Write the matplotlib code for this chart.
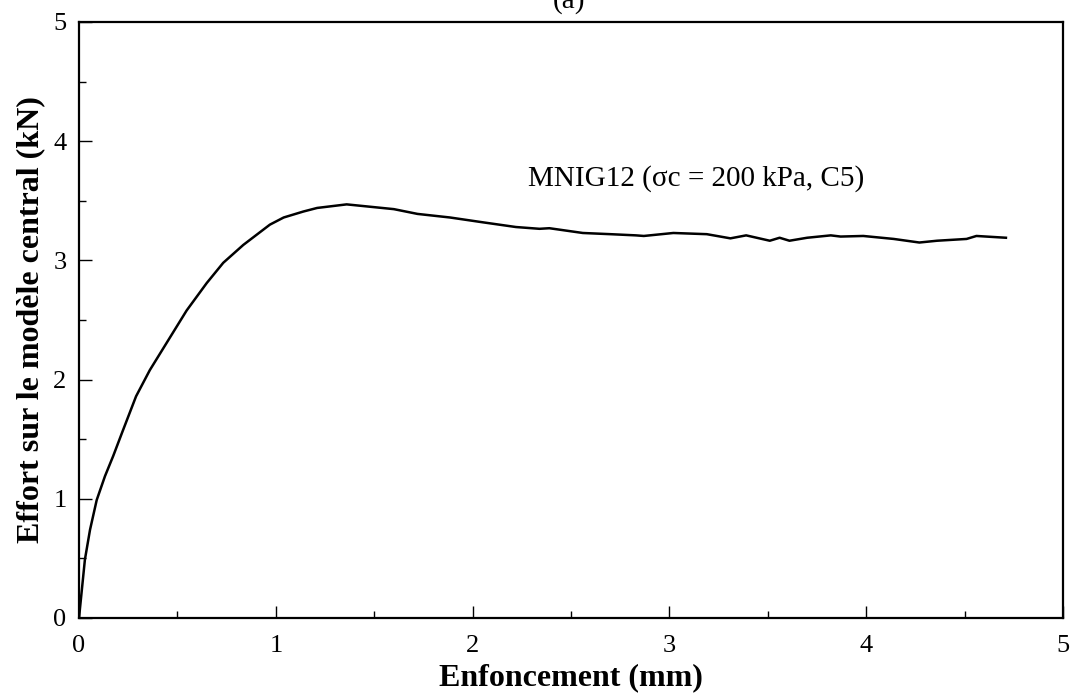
import matplotlib
matplotlib.use("Agg")
import matplotlib.pyplot as plt
from matplotlib.ticker import MultipleLocator

# courbe effort-enfoncement
enf = [0.0, 0.03, 0.056, 0.09, 0.132, 0.174, 0.22, 0.29, 0.36, 0.446, 0.547, 0.649,
       0.733, 0.835, 0.97, 1.04, 1.14, 1.21, 1.31, 1.36, 1.48, 1.60, 1.72, 1.885,
       2.05, 2.22, 2.34, 2.39, 2.56, 2.70, 2.83, 2.87, 3.02, 3.19, 3.31, 3.39,
       3.51, 3.56, 3.61, 3.70, 3.82, 3.87, 3.985, 4.14, 4.27, 4.36, 4.51, 4.56, 4.71]
effort = [0.0, 0.49, 0.74, 0.99, 1.19, 1.36, 1.56, 1.86, 2.08, 2.31, 2.58, 2.81,
          2.98, 3.13, 3.30, 3.36, 3.41, 3.44, 3.46, 3.47, 3.45, 3.43, 3.39, 3.36,
          3.32, 3.28, 3.265, 3.27, 3.23, 3.22, 3.21, 3.205, 3.23, 3.22, 3.185, 3.21,
          3.165, 3.19, 3.165, 3.19, 3.21, 3.20, 3.205, 3.18, 3.15, 3.165, 3.18, 3.205, 3.19]

plt.rcParams["font.family"] = ["Liberation Serif", "DejaVu Serif"]

fig = plt.figure(figsize=(10.71, 7.0), dpi=100)
ax = fig.add_axes([79/1071, 1-618/700, (1063-79)/1071, (618-22)/700])
ax.plot(enf, effort, color="black", lw=1.8)

ax.set_xlim(0, 5); ax.set_ylim(0, 5)
ax.xaxis.set_major_locator(MultipleLocator(1)); ax.xaxis.set_minor_locator(MultipleLocator(0.5))
ax.yaxis.set_major_locator(MultipleLocator(1)); ax.yaxis.set_minor_locator(MultipleLocator(0.5))
ax.tick_params(which="both", direction="in", labelsize=19, width=1.0)
ax.tick_params(which="major", length=9)
ax.tick_params(which="minor", length=5)
ax.tick_params(axis="x", pad=12)
ax.tick_params(axis="y", pad=9)
for s in ax.spines.values():
    s.set_linewidth(1.6)

ax.set_xlabel("Enfoncement (mm)", fontsize=23, fontweight="bold", labelpad=5)
ax.set_ylabel("Effort sur le modèle central (kN)", fontsize=23, fontweight="bold", labelpad=6)
ax.text(2.28, 3.69, "MNIG12 (σc = 200 kPa, C5)", fontsize=21, va="center", ha="left")
fig.text(0.531, 0.989, "(a)", fontsize=21, ha="center", va="baseline")

fig.savefig("out.png", dpi=100)
